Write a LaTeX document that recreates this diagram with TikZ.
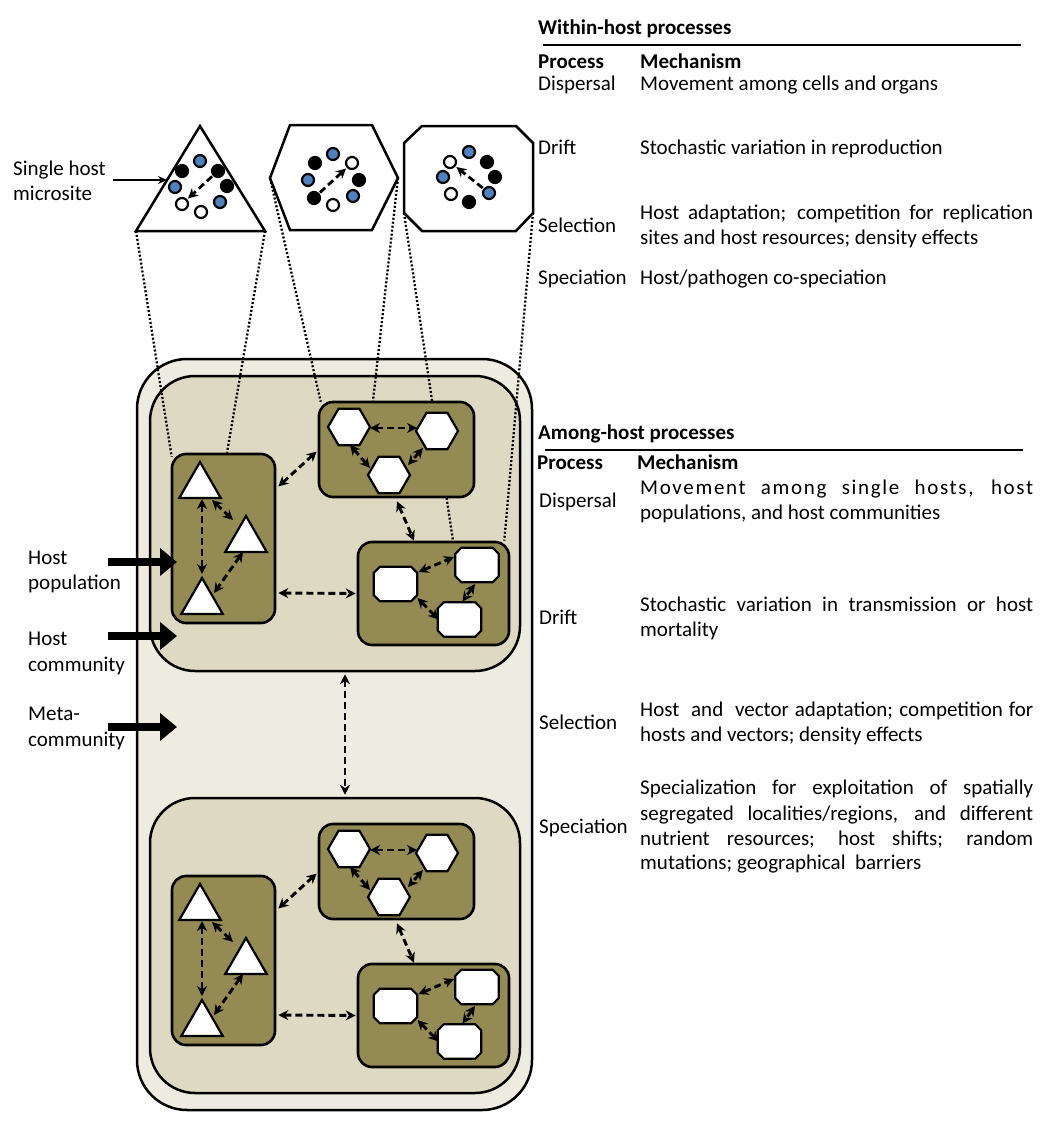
\documentclass[tikz,border=0pt]{standalone}
\usepackage{fontspec}
\setmainfont{Carlito}
\usetikzlibrary{arrows.meta,shapes.geometric,calc}
\definecolor{metafill}{RGB}{238,236,225}
\definecolor{commfill}{RGB}{221,217,195}
\definecolor{popfill}{RGB}{148,138,84}
\definecolor{dotblue}{RGB}{79,129,189}
\pgfdeclarelayer{bg}
\pgfdeclarelayer{mid}
\pgfsetlayers{bg,mid,main}

% octagon (chamfered rectangle) drawn round a named node
\newcommand\octnode[3]{%
  \node[octbase] (#1) at (#2,#3) {};
  \draw[octline] ($(#1.north west)+(6,0)$) -- ($(#1.north east)+(-6,0)$)
    -- ($(#1.north east)+(0,6)$) -- ($(#1.south east)+(0,-6)$)
    -- ($(#1.south east)+(-6,0)$) -- ($(#1.south west)+(6,0)$)
    -- ($(#1.south west)+(0,-6)$) -- ($(#1.north west)+(0,6)$) -- cycle;
}

\newcommand\popgroup[2]{%
  \node[popbox,minimum width=103pt,minimum height=169pt] (#1tb) at (223.5,{538.5+#2}) {};
  \node[popbox,minimum width=155pt,minimum height=95pt] (#1hb) at (396.5,{449.5+#2}) {};
  \node[popbox,minimum width=151pt,minimum height=103pt] (#1ob) at (433.5,{593.5+#2}) {};
  \node[tri] (#1t1) at (200,{486+#2}) {};
  \node[tri] (#1t2) at (246,{540+#2}) {};
  \node[tri] (#1t3) at (202,{602+#2}) {};
  \node[hexa] (#1h1) at (349,{427+#2}) {};
  \node[hexa] (#1h2) at (437,{431+#2}) {};
  \node[hexa] (#1h3) at (389,{475+#2}) {};
  \octnode{#1o1}{395.5}{584+#2}
  \octnode{#1o2}{477}{565+#2}
  \octnode{#1o3}{459.5}{619.5+#2}
  \draw[dar] ($(#1t1)+(2,13)$) -- ($(#1t3)+(0,-28)$);
  \draw[dar] ($(#1t1)+(12,14)$) -- ($(#1t2)+(-13,-20)$);
  \draw[dar] ($(#1t2)+(-3,12)$) -- ($(#1t3)+(12,-9)$);
  \draw[dar] ($(#1h1)+(21,1)$) -- ($(#1h2)+(-20,-3)$);
  \draw[dar] ($(#1h1)+(1,18)$) -- ($(#1h3)+(-19,-7)$);
  \draw[dar] ($(#1h2)+(-14,17)$) -- ($(#1h3)+(19,-10)$);
  \draw[dar] ($(#1o1)+(23,-12)$) -- ($(#1o2)+(-23,-8)$);
  \draw[dar] ($(#1o1)+(22,14)$) -- ($(#1o3)+(-21,0)$);
  \draw[dar] ($(#1o2)+(-2,19)$) -- ($(#1o3)+(3,-18)$);
  \draw[dar] ($(#1tb.east)+(2,-52)$) -- ($(#1hb.west)+(-1,2)$);
  \draw[dar] ($(#1tb.east)+(2,54.5)$) -- ($(#1ob.west)+(-1,0)$);
  \draw[dar] ($(#1hb.south)+(0.5,3)$) -- ($(#1ob.north)+(-19.5,0)$);
}

\begin{document}
\begin{tikzpicture}[x=1pt,y=-1pt,
  font=\fontsize{21}{25}\selectfont,
  metabox/.style={draw,line width=2.5pt,fill=metafill,rounded corners=50pt,inner sep=0pt},
  commbox/.style={draw,line width=2.5pt,fill=commfill,rounded corners=45pt,inner sep=0pt},
  popbox/.style={draw,line width=2.6pt,fill=popfill,rounded corners=14pt,inner sep=0pt},
  tri/.style={regular polygon,regular polygon sides=3,draw,line width=2.2pt,fill=white,minimum size=48pt,inner sep=0pt},
  hexa/.style={regular polygon,regular polygon sides=6,draw,line width=2.2pt,fill=white,minimum size=42pt,inner sep=0pt},
  octbase/.style={rectangle,minimum width=43pt,minimum height=34pt,inner sep=0pt},
  octline/.style={draw,line width=2.2pt,fill=white},
  dar/.style={line width=2.9pt,dash pattern=on 7pt off 4pt,{Stealth[length=10pt,width=10pt]}-{Stealth[length=10pt,width=10pt]}},
  mar/.style={line width=2.8pt,dash pattern=on 7pt off 4pt,-{Stealth[length=10pt,width=10pt]},shorten >=1pt,shorten <=1pt},
  dotl/.style={line width=2.3pt,dash pattern=on 2pt off 2pt},
  micro/.style={draw,line width=2.5pt,fill=white,line join=miter},
  dotk/.style={circle,draw,line width=2.2pt,minimum size=12pt,inner sep=0pt,fill=black},
  dotu/.style={dotk,fill=dotblue},
  dotw/.style={dotk,fill=white},
  txt/.style={anchor=base west,inner sep=0pt},
  bigarrow/.style={line width=8pt,-{Triangle[length=17pt,width=27pt]}},
  thinarrow/.style={line width=2.2pt,-{Stealth[length=9pt,width=8pt]}}
]
\useasboundingbox (0,0) rectangle (1049,1132);

% ---------- boxes (background) ----------
\begin{pgfonlayer}{bg}
  \node[metabox,minimum width=395pt,minimum height=751pt] (meta) at (334.5,734.5) {};
  \node[commbox,minimum width=370pt,minimum height=295pt] (c1) at (335,523.5) {};
  \node[commbox,minimum width=370pt,minimum height=295pt] (c2) at (335,945.5) {};
\end{pgfonlayer}

\popgroup{a}{0}
\popgroup{b}{422}

\draw[dar] ($(c1.south)+(10,2)$) -- ($(c2.north)+(10,-2)$);

% ---------- microsites ----------
\draw[micro] (136,231) coordinate (mtL) -- (200,126) -- (265,231) coordinate (mtR) -- cycle;
\draw[micro] (270,178) coordinate (mhL) -- (290,125) -- (372,125) -- (398,178) coordinate (mhR) -- (372,230) -- (290,230) -- cycle;
\draw[micro] (404,143) -- (422,126) -- (516,126) -- (533,143) -- (533,213) coordinate (moR) -- (516,231) -- (422,231) -- (404,213) coordinate (moL) -- cycle;

\begin{pgfonlayer}{mid}
  \draw[dotl] (mtL) -- ($(atb.north west)+(1,4)$);
  \draw[dotl] (mtR) -- ($(atb.north)+(3.5,0)$);
  \draw[dotl] (mhL) -- ($(ahb.north west)+(3,1)$);
  \draw[dotl] (mhR) -- ($(ahb.north)+(-23.5,0)$);
  \draw[dotl] (moL) -- ($(aob.north)+(19.5,0)$);
  \draw[dotl] (moR) -- ($(aob.north east)+(-6,0)$);
\end{pgfonlayer}

% triangle microsite dots
\node[dotu] (p1) at (200,161) {};
\node[dotk] (p2) at (182,171) {};
\node[dotk] (p3) at (218,171) {};
\node[dotu] (p4) at (175,187) {};
\node[dotk] (p5) at (227,186) {};
\node[dotw] (p6) at (182,204) {};
\node[dotu] (p7) at (220,202) {};
\node[dotw] (p8) at (201,212) {};
\draw[mar] (p3) -- (p6);
% hexagon microsite dots
\node[dotk] (q1) at (315,163) {};
\node[dotu] (q2) at (333,154) {};
\node[dotw] (q3) at (352,163) {};
\node[dotu] (q4) at (308,180) {};
\node[dotk] (q5) at (359,180) {};
\node[dotk] (q6) at (314,198) {};
\node[dotw] (q7) at (333,205) {};
\node[dotu] (q8) at (353,196) {};
\draw[mar] (q6) -- (q3);
% octagon microsite dots
\node[dotw] (r1) at (450,162) {};
\node[dotu] (r2) at (469,152) {};
\node[dotk] (r3) at (487,162) {};
\node[dotu] (r4) at (443,177) {};
\node[dotk] (r5) at (495,177) {};
\node[dotw] (r6) at (451,194) {};
\node[dotk] (r7) at (469,202) {};
\node[dotu] (r8) at (489,193) {};
\draw[mar] (r8) -- (r1);

% ---------- left labels ----------
\node[txt] (lsh1) at (13,175) {Single host};
\node[txt] (lsh2) at (13,200) {microsite};
\coordinate (ash0) at (113,180);
\coordinate (ash1) at (167,180);
\draw[thinarrow] (ash0) -- (ash1);

\node[txt] (lp1) at (28,564) {Host};
\node[txt] (lp2) at (28,589) {population};
\coordinate (ap0) at (108,562);
\coordinate (ap1) at (177,562);
\draw[bigarrow] (ap0) -- (ap1);

\node[txt] (lc1) at (28,645) {Host};
\node[txt] (lc2) at (28,671) {community};
\coordinate (ac0) at (108,636);
\coordinate (ac1) at (177,636);
\draw[bigarrow] (ac0) -- (ac1);

\node[txt] (lm1) at (28,720) {Meta-};
\node[txt] (lm2) at (28,746) {community};
\coordinate (am0) at (108,727);
\coordinate (am1) at (177,727);
\draw[bigarrow] (am0) -- (am1);

% ---------- within-host table ----------
\node[txt,font=\fontsize{21}{25}\selectfont\bfseries] (wt) at (538,35) {Within-host processes};
\draw[line width=2.5pt] (543,45) coordinate (wr0) -- (1021,45) coordinate (wr1);
\node[txt,font=\fontsize{21}{25}\selectfont\bfseries] (wp) at (538,68) {Process};
\node[txt,font=\fontsize{21}{25}\selectfont\bfseries] (wm) at (640,68) {Mechanism};
\node[txt] (w1) at (538,90) {Dispersal};
\node[txt] (w1m) at (640,90) {Movement among cells and organs};
\node[txt] (w2) at (538,154) {Drift};
\node[txt] (w2m) at (640,154) {Stochastic variation in reproduction};
\node[txt] (w3) at (538,232) {Selection};
\node[txt] (w3m1) at (640,219) {\makebox[393pt][s]{Host adaptation; competition for replication}};
\node[txt] (w3m2) at (640,244) {sites and host resources; density effects};
\node[txt] (w4) at (538,284) {Speciation};
\node[txt] (w4m) at (640,284) {Host/pathogen co-speciation};

% ---------- among-host table ----------
\node[txt,font=\fontsize{21}{25}\selectfont\bfseries] (at) at (538,439) {Among-host processes};
\draw[line width=2.5pt] (545,450) coordinate (ar0) -- (1023,450) coordinate (ar1);
\node[txt,font=\fontsize{21}{25}\selectfont\bfseries] (ap) at (537,469) {Process};
\node[txt,font=\fontsize{21}{25}\selectfont\bfseries] (am) at (637,469) {Mechanism};
\node[txt] (a1) at (539,507) {Dispersal};
\node[txt] (a1m1) at (640,494) {\addfontfeature{LetterSpace=8}\makebox[393pt][s]{Movement among single hosts, host}};
\node[txt] (a1m2) at (640,519) {populations, and host communities};
\node[txt] (a2) at (539,624) {Drift};
\node[txt] (a2m1) at (640,611) {\makebox[393pt][s]{Stochastic variation in transmission or host}};
\node[txt] (a2m2) at (640,636) {mortality};
\node[txt] (a3) at (539,729) {Selection};
\node[txt] (a3m1) at (640,716) {\makebox[393pt][s]{Host\ \ and\ \ vector adaptation; competition for}};
\node[txt] (a3m2) at (640,741) {hosts and vectors; density effects};
\node[txt] (a4) at (539,833) {Speciation};
\node[txt] (a4m1) at (640,794) {\makebox[393pt][s]{Specialization for exploitation of spatially}};
\node[txt] (a4m2) at (640,820) {\makebox[393pt][s]{segregated localities/regions, and different}};
\node[txt] (a4m3) at (640,845) {\makebox[393pt][s]{nutrient resources; host shifts; random}};
\node[txt] (a4m4) at (640,869) {mutations; geographical\ \ barriers};
\end{tikzpicture}
\end{document}
